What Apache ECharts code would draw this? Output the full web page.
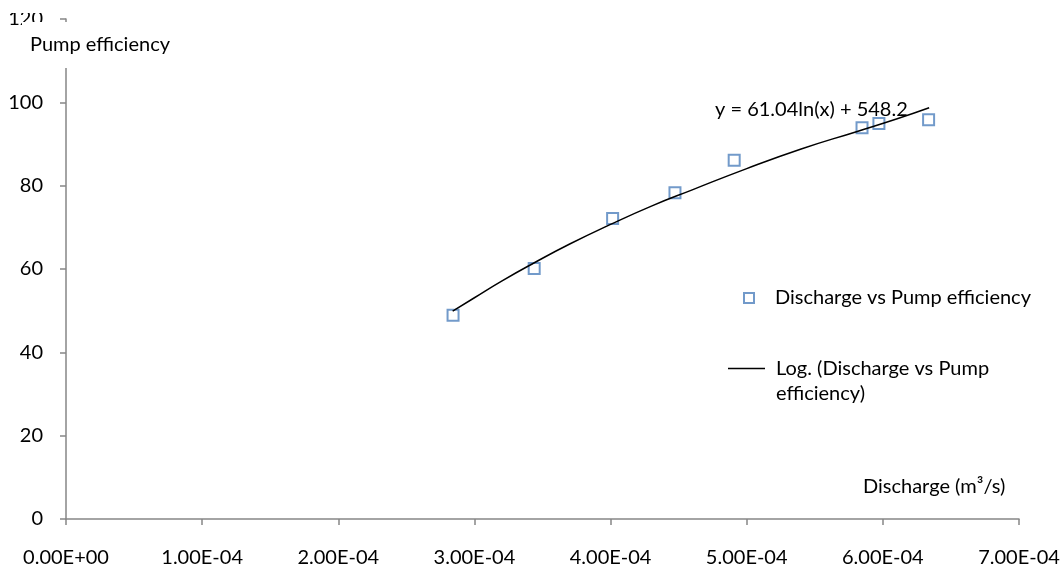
<!DOCTYPE html>
<html>
<head>
<meta charset="utf-8">
<script src="https://cdn.jsdelivr.net/npm/echarts@6/dist/echarts.min.js"></script>
<style>
  html, body { margin: 0; padding: 0; background: #fff; }
  #myChart { width: 1063px; height: 568px; }
</style>
</head>
<body>
<div id="myChart"></div>
<script>
  // measured points (discharge m3/s, efficiency %)
  const discharge = [2.843e-4, 3.439e-4, 4.015e-4, 4.473e-4, 4.908e-4, 5.847e-4, 5.971e-4, 6.336e-4];
  const efficiency = [48.9, 60.1, 72.1, 78.3, 86.1, 93.9, 94.9, 95.8];
  // trend line
  const trendX = [2.84e-4, 3.0e-4, 3.2e-4, 3.44e-4, 3.7e-4, 4.0e-4, 4.3e-4, 4.6e-4, 5.0e-4, 5.4e-4, 5.8e-4, 6.1e-4, 6.34e-4];
  const trendY = [49.9, 53.1, 57.1, 61.5, 66.0, 70.7, 75.1, 79.0, 84.1, 88.8, 92.9, 96.0, 98.7];
  const seriesName = 'Discharge vs Pump efficiency';
  const trendName = 'Log. (Discharge vs Pump efficiency)';
  const equation = 'y = 61.04ln(x) + 548.2';

  const font = 'Lato';
  const fs = 20;
  const axisColor = '#868686';

  function sci(v) {
    if (v === 0) return '0.00E+00';
    let s = v.toExponential(2).toUpperCase();
    let [m, e] = s.split('E');
    let sign = e[0] === '-' ? '-' : '+';
    let n = e.replace(/[+-]/, '');
    if (n.length < 2) n = '0' + n;
    return m + 'E' + sign + n;
  }

  let myChart = echarts.init(document.getElementById('myChart'));
  myChart.setOption({
    animation: false,
    textStyle: { fontFamily: font, fontSize: fs, color: '#000' },
    grid: { left: 66, right: 44, top: 19, bottom: 49 },
    xAxis: {
      type: 'value',
      min: 0,
      max: 7e-4,
      interval: 1e-4,
      splitLine: { show: false },
      axisLine: { lineStyle: { color: axisColor, width: 1.5 } },
      axisTick: { length: 6, lineStyle: { color: axisColor, width: 1.5 } },
      axisLabel: { margin: 29, fontFamily: font, fontSize: fs, color: '#000', formatter: sci }
    },
    yAxis: {
      type: 'value',
      min: 0,
      max: 120,
      interval: 20,
      splitLine: { show: false },
      axisLine: { show: true, lineStyle: { color: axisColor, width: 1.5 } },
      axisTick: { show: true, length: 6, lineStyle: { color: axisColor, width: 1.5 } },
      axisLabel: { margin: 23, fontFamily: font, fontSize: fs, color: '#000' }
    },
    legend: [
      {
        data: [{ name: seriesName, icon: 'rect' }],
        left: 738,
        top: 283,
        itemWidth: 10,
        itemHeight: 10,
        textStyle: { fontFamily: font, fontSize: fs, color: '#000', padding: [0, 0, 0, 16] }
      },
      {
        data: [{ name: trendName, icon: 'path://M0,0 L40,0 L40,1.5 L0,1.5 Z' }],
        left: 723,
        top: 326,
        itemWidth: 37,
        itemHeight: 2,
        formatter: function () { return '\nLog. (Discharge vs Pump\nefficiency)'; },
        textStyle: { fontFamily: font, fontSize: fs, color: '#000', lineHeight: 25, padding: [0, 0, 0, 6] }
      }
    ],
    graphic: [
      {
        type: 'rect', z: 100,
        shape: { x: 0, y: 0, width: 300, height: 13 },
        style: { fill: '#fff' }
      },
      {
        type: 'rect', z: 100,
        shape: { x: 22, y: 22, width: 160, height: 46 },
        style: { fill: '#fff' }
      },
      {
        type: 'text', z: 101, left: 30, top: 35,
        style: { text: 'Pump efficiency', fontFamily: font, fontSize: fs, fill: '#000' }
      },
      {
        type: 'text', z: 101, left: 863, top: 477,
        style: { text: 'Discharge (m³/s)', fontFamily: font, fontSize: fs, fill: '#000' }
      },
      {
        type: 'text', z: 101, left: 715, top: 100,
        style: { text: equation, fontFamily: font, fontSize: fs, fill: '#000' }
      }
    ],
    series: [
      {
        name: seriesName,
        type: 'scatter',
        symbol: 'rect',
        symbolSize: 11,
        z: 2,
        itemStyle: { color: 'rgba(255,255,255,0)', borderColor: '#4F81BD', borderWidth: 2 },
        data: discharge.map((x, i) => [x, efficiency[i]])
      },
      {
        name: trendName,
        type: 'line',
        smooth: true,
        showSymbol: false,
        z: 3,
        lineStyle: { color: '#000', width: 1.5 },
        itemStyle: { color: '#000' },
        data: trendX.map((x, i) => [x, trendY[i]])
      }
    ]
  });
</script>
</body>
</html>
